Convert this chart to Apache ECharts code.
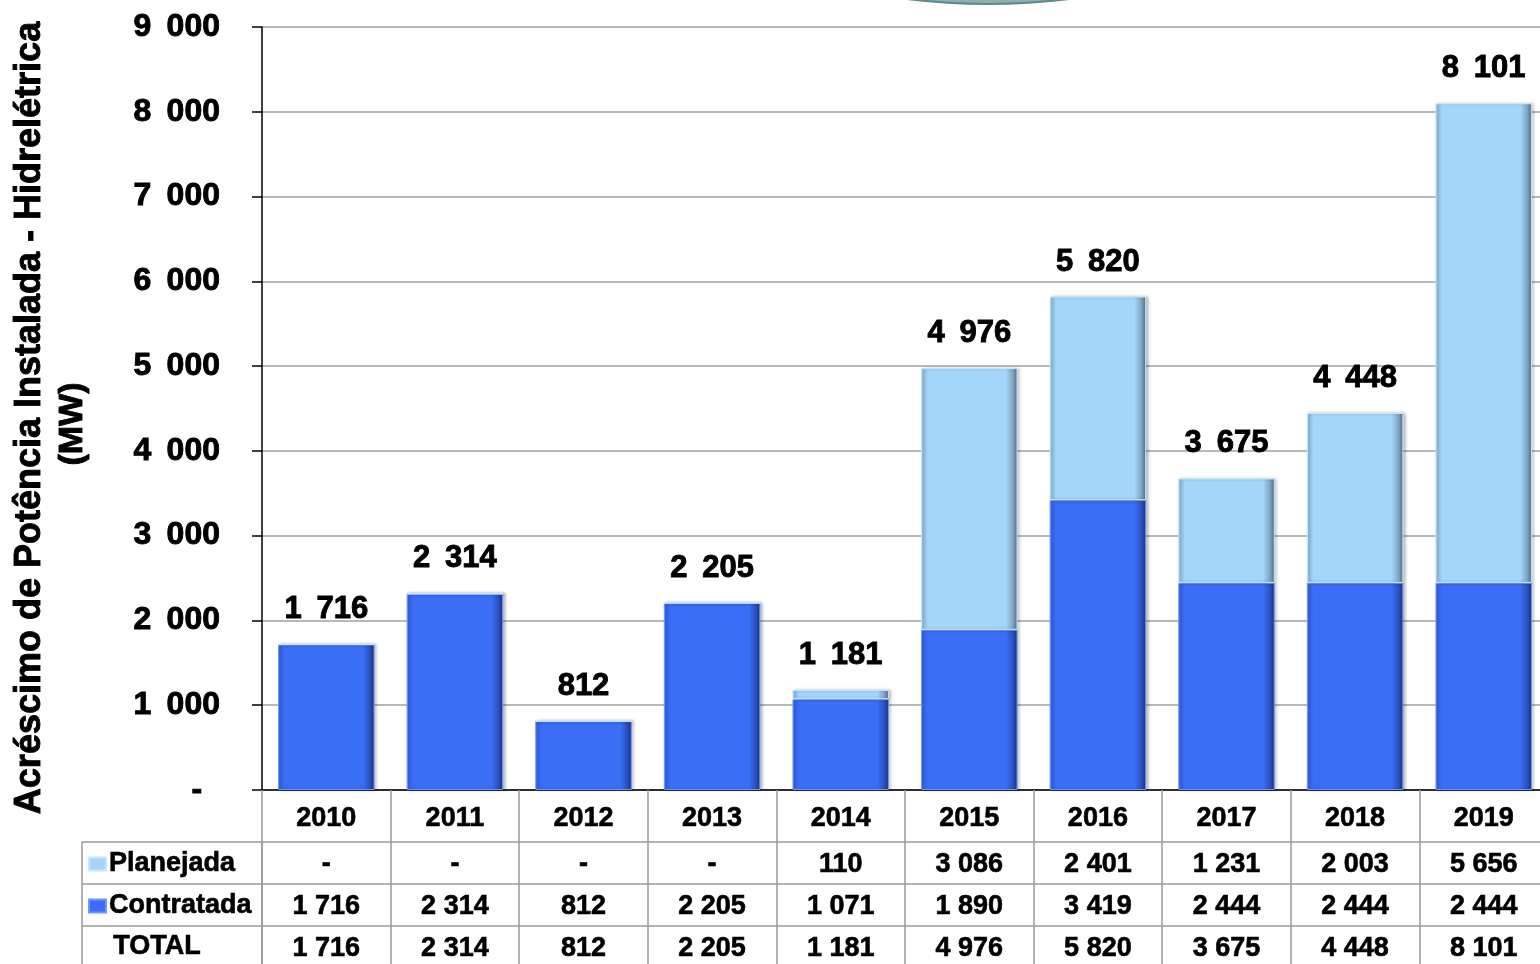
<!DOCTYPE html>
<html>
<head>
<meta charset="utf-8">
<script src="https://cdn.jsdelivr.net/npm/echarts@6/dist/echarts.min.js"></script>
<style>
  html, body { margin: 0; padding: 0; background: #ffffff; }
  #chart { width: 1540px; height: 964px; }
</style>
</head>
<body>
<div id="chart"></div>
<script>
const years = ["2010", "2011", "2012", "2013", "2014", "2015", "2016", "2017", "2018", "2019"];
const planejada = [0, 0, 0, 0, 110, 3086, 2401, 1231, 2003, 5656];
const contratada = [1716, 2314, 812, 2205, 1071, 1890, 3419, 2444, 2444, 2444];
const total = [1716, 2314, 812, 2205, 1181, 4976, 5820, 3675, 4448, 8101];
const yMin = 0, yMax = 9000, yStep = 1000;

const FONT = '"Liberation Sans", Arial, sans-serif';
// a thin outline makes the bold text as heavy as the original
const heavy = { textBorderColor: "#000", textBorderWidth: 0.9 };
const WIDE = " \u2009";

// thousands with a space, "-" for zero
function fmt(v, sep) {
  if (v === 0) return "-";
  if (v < 1000) return String(v);
  return Math.floor(v / 1000) + sep + String(v % 1000).padStart(3, "0");
}

const darkBlue = new echarts.graphic.LinearGradient(0, 0, 1, 0, [
  { offset: 0, color: "#3262e0" },
  { offset: 0.07, color: "#3b6ef7" },
  { offset: 0.88, color: "#3b6ef7" },
  { offset: 0.95, color: "#2a52c0" },
  { offset: 1, color: "#17307a" },
]);
const lightBlue = new echarts.graphic.LinearGradient(0, 0, 1, 0, [
  { offset: 0, color: "#8cb6d8" },
  { offset: 0.07, color: "#a3d6fa" },
  { offset: 0.88, color: "#a3d6fa" },
  { offset: 0.95, color: "#7fa6c4" },
  { offset: 1, color: "#4a6680" },
]);

const tableRow = (offset, values) => ({
  type: "category",
  data: years,
  position: "bottom",
  offset: offset,
  axisLine: { show: true, lineStyle: { color: "#9a9a9a", width: 1.5 } },
  axisTick: { show: false },
  axisLabel: Object.assign({
    margin: 9.5,
    interval: 0,
    fontFamily: FONT,
    fontWeight: "bold",
    fontSize: 27,
    lineHeight: 27,
    color: "#000",
    formatter: (val, idx) => fmt(values[idx], " "),
  }, heavy, { textBorderWidth: 0.6 }),
});

const chart = echarts.init(document.getElementById("chart"));

chart.setOption({
  backgroundColor: "#ffffff",
  animation: false,
  grid: { left: 262, right: -8, top: 27, bottom: 174, outerBoundsMode: "none" },
  legend: {
    data: ["Planejada", "Contratada"],
    orient: "vertical",
    left: 88,
    top: 849,
    padding: 0,
    itemGap: 12,
    itemWidth: 17,
    itemHeight: 13,
    icon: "rect",
    textStyle: Object.assign({
      fontFamily: FONT,
      fontWeight: "bold",
      fontSize: 27,
      lineHeight: 30,
      color: "#000",
      padding: [0, 0, 0, -2],
    }, heavy, { textBorderWidth: 0.6 }),
  },
  xAxis: [
    {
      type: "category",
      data: years,
      position: "bottom",
      axisLine: { show: true, lineStyle: { color: "#000", width: 1.5 } },
      axisTick: { show: true, length: 180, lineStyle: { color: "#9a9a9a", width: 1.5 } },
      axisLabel: Object.assign({
        margin: 15,
        interval: 0,
        fontFamily: FONT,
        fontWeight: "bold",
        fontSize: 27,
        lineHeight: 27,
        color: "#000",
      }, heavy, { textBorderWidth: 0.6 }),
    },
    tableRow(52, planejada),
    tableRow(94, contratada),
    tableRow(136, total),
  ],
  yAxis: {
    type: "value",
    min: yMin,
    max: yMax,
    interval: yStep,
    axisLine: { show: true, lineStyle: { color: "#000", width: 1.5 } },
    axisTick: { show: true, length: 10, lineStyle: { color: "#000", width: 1.5 } },
    splitLine: { lineStyle: { color: "#a0a0a0", width: 1.5 } },
    axisLabel: Object.assign({
      margin: 42,
      fontFamily: FONT,
      fontWeight: "bold",
      fontSize: 32,
      color: "#000",
      formatter: (v) => (v === 0 ? "-  " : fmt(v, WIDE)),
    }, heavy),
  },
  series: [
    {
      name: "Contratada",
      type: "bar",
      stack: "total",
      data: contratada,
      barCategoryGap: "25%",
      itemStyle: {
        color: darkBlue,
        borderColor: "#6f95ff",
        borderWidth: 1,
        shadowColor: "rgba(0, 0, 0, 0.25)",
        shadowOffsetX: 2,
        shadowBlur: 3,
      },
    },
    {
      name: "Planejada",
      type: "bar",
      stack: "total",
      data: planejada,
      barCategoryGap: "25%",
      itemStyle: {
        color: lightBlue,
        borderColor: "#c6e8ff",
        borderWidth: 1,
        shadowColor: "rgba(0, 0, 0, 0.25)",
        shadowOffsetX: 2,
        shadowBlur: 3,
      },
      label: Object.assign({
        show: true,
        position: "top",
        distance: 19,
        fontFamily: FONT,
        fontWeight: "bold",
        fontSize: 31,
        color: "#000",
        formatter: (p) => fmt(total[p.dataIndex], WIDE),
      }, heavy),
    },
  ],
  graphic: [
    // legend column of the table
    {
      type: "rect",
      shape: { x: 82, y: 842, width: 180, height: 140 },
      style: { fill: "none", stroke: "#9a9a9a", lineWidth: 1.5 },
    },
    { type: "line", shape: { x1: 82, y1: 884, x2: 262, y2: 884 }, style: { stroke: "#9a9a9a", lineWidth: 1.5 } },
    { type: "line", shape: { x1: 82, y1: 926, x2: 262, y2: 926 }, style: { stroke: "#9a9a9a", lineWidth: 1.5 } },
    {
      type: "text",
      left: 113,
      top: 933,
      style: Object.assign({ text: "TOTAL", fontFamily: FONT, fontWeight: "bold", fontSize: 27, fill: "#000" },
        { stroke: "#000", lineWidth: 0.6 }),
    },
    // y-axis title
    {
      type: "text",
      x: 30,
      y: 418,
      rotation: Math.PI / 2,
      style: {
        text: "Acréscimo de Potência Instalada - Hidrelétrica",
        fontFamily: FONT,
        fontWeight: "bold",
        fontSize: 36,
        fill: "#000",
        stroke: "#000",
        lineWidth: 0.9,
        align: "center",
        verticalAlign: "middle",
      },
    },
    {
      type: "text",
      x: 73,
      y: 424,
      rotation: Math.PI / 2,
      style: {
        text: "(MW)",
        fontFamily: FONT,
        fontWeight: "bold",
        fontSize: 34,
        fill: "#000",
        stroke: "#000",
        lineWidth: 0.9,
        align: "center",
        verticalAlign: "middle",
      },
    },
    // slide decoration peeking at the top
    {
      type: "circle",
      shape: { cx: 988, cy: -646, r: 650 },
      style: { fill: "#8fb0b0", stroke: "#5f8a8a", lineWidth: 2 },
    },
  ],
});
</script>
</body>
</html>
